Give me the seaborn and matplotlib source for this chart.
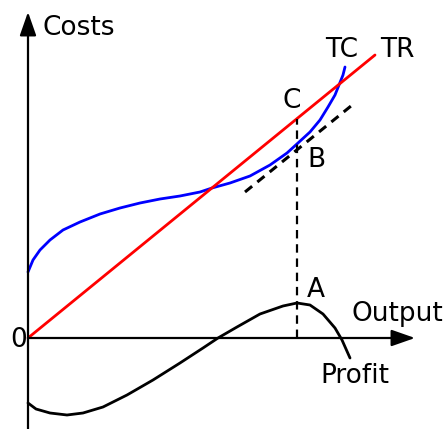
"""Cost / revenue / profit diagram (TC, TR and profit against output)."""

import matplotlib

matplotlib.use("Agg")
import matplotlib.pyplot as plt
import pandas as pd
import seaborn as sns

# values, origin at the axes crossing
tr_x = [0, 347]
tr_y = [0, 283]

tc_x = [0, 5, 12, 22, 35, 52, 72, 92, 112, 132, 152, 172, 184, 202, 222, 242,
        259, 270, 282, 292, 300, 307, 311, 315, 317]
tc_y = [66, 78, 88, 98, 108, 116, 124, 130, 135, 139, 142, 146, 150, 155, 162, 173,
        185, 195, 206, 218, 231, 243, 253, 263, 271]

profit_x = [0, 8, 22, 39, 55, 75, 99, 125, 152, 175, 190, 209, 232, 255, 269,
            282, 295, 307, 314, 322]
profit_y = [-65, -71, -75, -77, -75, -69, -57, -42, -25, -10, 0, 11, 24, 32, 35,
            33, 24, 10, -2, -20]

tangent_x = [217, 323]
tangent_y = [146, 232]

q_star = 269
c_level = 219

labels = {
    "Costs": (15, 303),
    "TC": (297, 281),
    "TR": (352, 281),
    "C": (255, 230),
    "B": (279, 171),
    "A": (279, 41),
    "Output": (324, 17),
    "Profit": (292, -45),
    "0": (-18, -9),
}

sns.set_style("white")
plt.rcParams["font.family"] = ["DejaVu Sans"]

fig = plt.figure(figsize=(4.43, 4.29), dpi=100)
ax = fig.add_axes([0, 0, 1, 1])
ax.set_xlim(-28, 415)
ax.set_ylim(-91, 338)
ax.axis("off")

tr = pd.DataFrame({"x": tr_x, "y": tr_y})
tc = pd.DataFrame({"x": tc_x, "y": tc_y})
profit = pd.DataFrame({"x": profit_x, "y": profit_y})
tangent = pd.DataFrame({"x": tangent_x, "y": tangent_y})

sns.lineplot(data=tc, x="x", y="y", color="#0000ff", lw=2.0, sort=False, estimator=None, ax=ax)
sns.lineplot(data=tr, x="x", y="y", color="#ff0000", lw=2.0, sort=False, estimator=None, ax=ax)
sns.lineplot(data=profit, x="x", y="y", color="black", lw=2.0, sort=False, estimator=None, ax=ax)
sns.lineplot(data=tangent, x="x", y="y", color="black", lw=2.2, sort=False,
             estimator=None, ax=ax).lines[-1].set_dashes((3.0, 2.2))
ax.plot([q_star, q_star], [0, c_level], color="black", lw=1.6, dashes=(3.8, 2.6))

# axes with arrow heads
arrow = dict(arrowstyle="-|>,head_length=0.8,head_width=0.28", mutation_scale=18,
             lw=1.6, color="black", shrinkA=0, shrinkB=0)
ax.annotate("", xy=(0, 326), xytext=(0, -92), arrowprops=arrow)
ax.annotate("", xy=(387, 0), xytext=(0, 0), arrowprops=arrow)

for text, (x, y) in labels.items():
    ax.text(x, y, text, fontsize=19, color="black", ha="left", va="baseline")

fig.savefig("out.png", dpi=100)
